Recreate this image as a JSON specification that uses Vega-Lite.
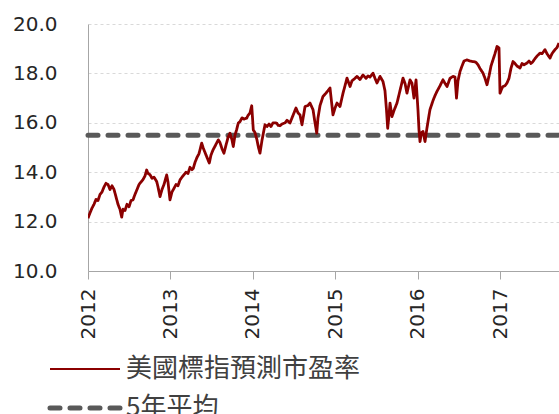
{
  "$schema": "https://vega.github.io/schema/vega-lite/v6.json",
  "autosize": "none",
  "width": 471,
  "height": 247,
  "padding": {"left": 88, "top": 24, "right": 0, "bottom": 143},
  "background": "white",
  "config": {"view": {"stroke": null}},
  "datasets": {
    "pe": [
      {"t":2012.000,"v":12.14},{"t":2012.024,"v":12.35},{"t":2012.049,"v":12.55},{"t":2012.073,"v":12.7},{"t":2012.097,"v":12.9},
      {"t":2012.121,"v":12.85},{"t":2012.146,"v":13.1},{"t":2012.170,"v":13.2},{"t":2012.194,"v":13.4},{"t":2012.218,"v":13.55},
      {"t":2012.243,"v":13.5},{"t":2012.267,"v":13.3},{"t":2012.291,"v":13.45},{"t":2012.316,"v":13.3},{"t":2012.340,"v":13.0},
      {"t":2012.364,"v":12.7},{"t":2012.388,"v":12.5},{"t":2012.409,"v":12.18},{"t":2012.425,"v":12.5},{"t":2012.449,"v":12.45},
      {"t":2012.473,"v":12.7},{"t":2012.498,"v":12.6},{"t":2012.522,"v":12.85},{"t":2012.546,"v":12.88},{"t":2012.570,"v":13.1},
      {"t":2012.595,"v":13.3},{"t":2012.619,"v":13.5},{"t":2012.643,"v":13.6},{"t":2012.667,"v":13.7},{"t":2012.692,"v":13.85},
      {"t":2012.712,"v":14.09},{"t":2012.728,"v":13.95},{"t":2012.752,"v":13.9},{"t":2012.777,"v":13.75},{"t":2012.801,"v":13.8},
      {"t":2012.834,"v":13.62},{"t":2012.850,"v":13.4},{"t":2012.874,"v":13.01},{"t":2012.898,"v":13.3},{"t":2012.922,"v":13.5},
      {"t":2012.955,"v":13.89},{"t":2012.971,"v":13.6},{"t":2012.995,"v":12.88},{"t":2013.019,"v":13.2},{"t":2013.044,"v":13.35},
      {"t":2013.068,"v":13.5},{"t":2013.092,"v":13.45},{"t":2013.117,"v":13.69},{"t":2013.141,"v":13.8},{"t":2013.165,"v":13.9},
      {"t":2013.189,"v":14.0},{"t":2013.214,"v":13.95},{"t":2013.238,"v":14.2},{"t":2013.262,"v":14.1},{"t":2013.278,"v":14.16},
      {"t":2013.299,"v":14.4},{"t":2013.323,"v":14.6},{"t":2013.347,"v":14.75},{"t":2013.380,"v":15.18},{"t":2013.396,"v":15.0},
      {"t":2013.420,"v":14.8},{"t":2013.444,"v":14.6},{"t":2013.472,"v":14.37},{"t":2013.493,"v":14.7},{"t":2013.517,"v":14.9},
      {"t":2013.541,"v":15.05},{"t":2013.581,"v":15.31},{"t":2013.602,"v":15.2},{"t":2013.626,"v":14.95},{"t":2013.650,"v":14.77},
      {"t":2013.675,"v":15.1},{"t":2013.699,"v":15.4},{"t":2013.723,"v":15.58},{"t":2013.748,"v":15.3},{"t":2013.763,"v":15.04},
      {"t":2013.784,"v":15.5},{"t":2013.802,"v":15.7},{"t":2013.824,"v":15.99},{"t":2013.845,"v":16.05},{"t":2013.869,"v":16.2},
      {"t":2013.893,"v":16.15},{"t":2013.926,"v":16.19},{"t":2013.942,"v":16.3},{"t":2013.966,"v":16.4},{"t":2013.987,"v":16.69},
      {"t":2014.006,"v":15.71},{"t":2014.027,"v":15.6},{"t":2014.051,"v":15.3},{"t":2014.069,"v":15.0},{"t":2014.087,"v":14.77},
      {"t":2014.112,"v":15.3},{"t":2014.148,"v":15.92},{"t":2014.172,"v":15.85},{"t":2014.197,"v":15.95},{"t":2014.221,"v":15.85},
      {"t":2014.245,"v":16.0},{"t":2014.290,"v":15.99},{"t":2014.306,"v":15.9},{"t":2014.330,"v":15.88},{"t":2014.354,"v":15.95},
      {"t":2014.391,"v":16.0},{"t":2014.415,"v":16.1},{"t":2014.451,"v":15.99},{"t":2014.476,"v":16.2},{"t":2014.500,"v":16.4},
      {"t":2014.524,"v":16.6},{"t":2014.549,"v":16.4},{"t":2014.573,"v":16.32},{"t":2014.597,"v":15.92},{"t":2014.621,"v":16.4},
      {"t":2014.634,"v":16.66},{"t":2014.670,"v":16.7},{"t":2014.694,"v":16.8},{"t":2014.731,"v":16.53},{"t":2014.755,"v":16.0},
      {"t":2014.776,"v":15.58},{"t":2014.791,"v":16.2},{"t":2014.816,"v":16.7},{"t":2014.852,"v":17.07},{"t":2014.888,"v":17.2},
      {"t":2014.913,"v":17.3},{"t":2014.937,"v":17.41},{"t":2014.973,"v":16.32},{"t":2014.998,"v":16.6},{"t":2015.022,"v":16.8},
      {"t":2015.058,"v":16.66},{"t":2015.095,"v":17.2},{"t":2015.119,"v":17.5},{"t":2015.143,"v":17.81},{"t":2015.180,"v":17.47},
      {"t":2015.204,"v":17.7},{"t":2015.240,"v":17.8},{"t":2015.265,"v":17.88},{"t":2015.301,"v":17.75},{"t":2015.337,"v":17.94},
      {"t":2015.374,"v":17.8},{"t":2015.398,"v":17.9},{"t":2015.422,"v":17.85},{"t":2015.459,"v":18.01},{"t":2015.483,"v":17.8},
      {"t":2015.507,"v":17.61},{"t":2015.544,"v":17.88},{"t":2015.580,"v":17.67},{"t":2015.604,"v":17.3},{"t":2015.623,"v":16.5},
      {"t":2015.637,"v":15.78},{"t":2015.653,"v":16.3},{"t":2015.665,"v":16.8},{"t":2015.689,"v":16.25},{"t":2015.714,"v":16.5},
      {"t":2015.750,"v":16.8},{"t":2015.786,"v":17.3},{"t":2015.823,"v":17.81},{"t":2015.847,"v":17.6},{"t":2015.871,"v":17.2},
      {"t":2015.908,"v":17.74},{"t":2015.932,"v":17.6},{"t":2015.956,"v":17.0},{"t":2015.981,"v":17.74},{"t":2016.005,"v":16.5},
      {"t":2016.017,"v":15.7},{"t":2016.029,"v":15.24},{"t":2016.047,"v":15.6},{"t":2016.066,"v":15.65},{"t":2016.090,"v":15.24},
      {"t":2016.114,"v":15.8},{"t":2016.150,"v":16.53},{"t":2016.187,"v":16.9},{"t":2016.211,"v":17.1},{"t":2016.235,"v":17.27},
      {"t":2016.272,"v":17.5},{"t":2016.308,"v":17.74},{"t":2016.332,"v":17.6},{"t":2016.357,"v":17.47},{"t":2016.393,"v":17.8},
      {"t":2016.430,"v":17.88},{"t":2016.454,"v":17.85},{"t":2016.472,"v":17.0},{"t":2016.490,"v":17.7},{"t":2016.515,"v":18.08},
      {"t":2016.539,"v":18.3},{"t":2016.563,"v":18.5},{"t":2016.600,"v":18.55},{"t":2016.636,"v":18.5},{"t":2016.672,"v":18.48},
      {"t":2016.709,"v":18.45},{"t":2016.733,"v":18.35},{"t":2016.757,"v":18.2},{"t":2016.794,"v":18.01},{"t":2016.818,"v":17.8},
      {"t":2016.842,"v":17.54},{"t":2016.867,"v":17.9},{"t":2016.891,"v":18.3},{"t":2016.915,"v":18.55},{"t":2016.939,"v":18.8},
      {"t":2016.964,"v":19.09},{"t":2016.988,"v":19.03},{"t":2017.000,"v":17.2},{"t":2017.024,"v":17.4},{"t":2017.036,"v":17.47},
      {"t":2017.061,"v":17.5},{"t":2017.085,"v":17.61},{"t":2017.109,"v":17.8},{"t":2017.133,"v":18.2},{"t":2017.158,"v":18.48},
      {"t":2017.182,"v":18.4},{"t":2017.206,"v":18.3},{"t":2017.243,"v":18.22},{"t":2017.267,"v":18.4},{"t":2017.291,"v":18.35},
      {"t":2017.328,"v":18.42},{"t":2017.352,"v":18.5},{"t":2017.376,"v":18.4},{"t":2017.400,"v":18.48},{"t":2017.425,"v":18.6},
      {"t":2017.449,"v":18.7},{"t":2017.485,"v":18.82},{"t":2017.510,"v":18.8},{"t":2017.546,"v":18.96},{"t":2017.570,"v":18.8},
      {"t":2017.607,"v":18.62},{"t":2017.631,"v":18.8},{"t":2017.667,"v":18.96},{"t":2017.692,"v":19.05},{"t":2017.716,"v":19.23}
    ],
    "avg": [
      {"t": 2012.0, "v": 15.5},
      {"t": 2017.716, "v": 15.5}
    ]
  },
  "encoding": {
    "x": {
      "field": "t",
      "type": "quantitative",
      "scale": {"domain": [2012, 2017.716], "nice": false, "zero": false},
      "axis": {
        "title": null,
        "values": [2012, 2013, 2014, 2015, 2016, 2017],
        "format": "d",
        "labelAngle": 270,
        "labelFont": "DejaVu Sans",
        "labelFontSize": 20,
        "labelColor": "#262626",
        "labelPadding": 9,
        "labelFlush": false,
        "labelOverlap": false,
        "tickSize": 8,
        "tickColor": "#a6a6a6",
        "domainColor": "#a6a6a6",
        "grid": false
      }
    },
    "y": {
      "field": "v",
      "type": "quantitative",
      "scale": {"domain": [10, 20], "nice": false, "zero": false},
      "axis": {
        "title": null,
        "values": [10, 12, 14, 16, 18, 20],
        "format": ".1f",
        "labelFont": "DejaVu Sans",
        "labelFontSize": 20,
        "labelColor": "#262626",
        "labelPadding": 31,
        "ticks": false,
        "domainColor": "#a6a6a6",
        "grid": true,
        "gridColor": "#d9d9d9",
        "gridDash": [3, 3]
      }
    },
    "color": {
      "field": "s",
      "type": "nominal",
      "scale": {"domain": ["美國標指預測市盈率", "5年平均"], "range": ["#8b0000", "#595959"]},
      "legend": {
        "title": null,
        "orient": "none",
        "legendX": -16,
        "legendY": 332,
        "direction": "vertical",
        "symbolType": "stroke",
        "symbolSize": 4900,
        "symbolStrokeWidth": 2.5,
        "labelFont": "Noto Sans CJK TC",
        "labelFontSize": 26,
        "labelColor": "#404040",
        "labelOffset": 28,
        "labelLimit": 400,
        "rowPadding": 13,
        "padding": 0,
        "encode": {
          "symbols": {
            "update": {
              "strokeWidth": {"signal": "datum.value === '5年平均' ? 5 : 2"},
              "strokeCap": {"signal": "datum.value === '5年平均' ? 'round' : 'butt'"}
            }
          }
        }
      }
    },
    "strokeDash": {
      "field": "s",
      "type": "nominal",
      "scale": {"domain": ["美國標指預測市盈率", "5年平均"], "range": [[1, 0], [10, 10]]},
      "legend": null
    }
  },
  "layer": [
    {
      "data": {"name": "avg"},
      "mark": {"type": "line", "strokeWidth": 5, "strokeCap": "round"},
      "encoding": {"color": {"datum": "5年平均"}, "strokeDash": {"datum": "5年平均"}}
    },
    {
      "data": {"name": "pe"},
      "mark": {"type": "line", "strokeWidth": 2.8, "strokeJoin": "round", "clip": true},
      "encoding": {"color": {"datum": "美國標指預測市盈率"}, "strokeDash": {"datum": "美國標指預測市盈率"}}
    }
  ]
}
